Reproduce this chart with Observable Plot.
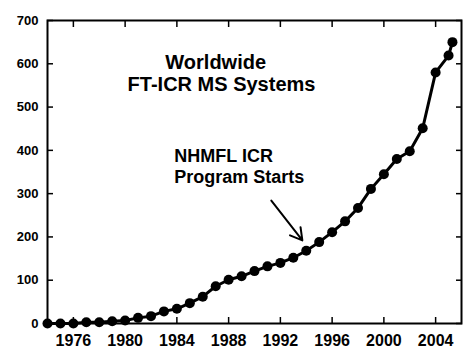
<!DOCTYPE html>
<html>
<head>
<meta charset="utf-8">
<script src="https://cdn.jsdelivr.net/npm/d3@7"></script>
<script src="https://cdn.jsdelivr.net/npm/@observablehq/plot@0.6"></script>
<style>
  html, body { margin: 0; padding: 0; background: #fff; }
  svg { display: block; }
</style>
</head>
<body>
<div id="chart"></div>
<script>
const years = [1974, 1975, 1976, 1977, 1978, 1979, 1980, 1981, 1982, 1983, 1984, 1985, 1986, 1987, 1988, 1989, 1990, 1991, 1992, 1993, 1994, 1995, 1996, 1997, 1998, 1999, 2000, 2001, 2002, 2003, 2004, 2005, 2005.3];
const systems = [0, 0, 0, 3, 3, 5, 7, 13, 17, 28, 34, 47, 62, 86, 101, 109, 121, 132, 140, 152, 168, 188, 211, 236, 267, 311, 345, 380, 398, 451, 580, 619, 650];
const xTicks = [1976, 1980, 1984, 1988, 1992, 1996, 2000, 2004];
const yTicks = [0, 100, 200, 300, 400, 500, 600, 700];
const titleLines = ["Worldwide", "FT-ICR MS Systems"];
const noteLines = ["NHMFL ICR", "Program Starts"];
const arrowFrom = {year: 1991.3, value: 284};
const arrowTo = {year: 1993.7, value: 192};

const data = years.map((y, i) => ({year: y, value: systems[i]}));
const font = "'Liberation Sans', Arial, Helvetica, sans-serif";

const chart = Plot.plot({
  width: 474,
  height: 355,
  marginLeft: 47,
  marginRight: 13,
  marginTop: 20,
  marginBottom: 32,
  style: {fontFamily: font, fontWeight: "bold", color: "black", background: "white"},
  x: {domain: [1974, 2006]},
  y: {domain: [0, 700]},
  marks: [
    Plot.frame({stroke: "black", strokeWidth: 2}),
    Plot.axisX({anchor: "bottom", ticks: xTicks, tickSize: 0, tickPadding: 11, tickFormat: d => String(d), fontSize: 16, fontWeight: "bold", label: null}),
    Plot.axisX({anchor: "bottom", ticks: xTicks, tickSize: -6, text: null, strokeWidth: 1.5, label: null}),
    Plot.axisX({anchor: "top", ticks: xTicks, tickSize: -6, text: null, strokeWidth: 1.5, label: null}),
    Plot.axisY({anchor: "left", ticks: yTicks, tickSize: 0, tickPadding: 9, fontSize: 13, fontWeight: "bold", label: null}),
    Plot.axisY({anchor: "left", ticks: yTicks, tickSize: -6, text: null, strokeWidth: 1.5, label: null}),
    Plot.axisY({anchor: "right", ticks: yTicks, tickSize: -6, text: null, strokeWidth: 1.5, label: null}),
    Plot.line(data, {x: "year", y: "value", stroke: "black", strokeWidth: 3}),
    Plot.dot(data, {x: "year", y: "value", r: 5, fill: "black"}),
    Plot.text([titleLines[0]], {x: [1987.0], y: [603], text: d => d, fontSize: 20, fontWeight: "bold", fill: "black"}),
    Plot.text([titleLines[1]], {x: [1987.45], y: [553], text: d => d, fontSize: 20, fontWeight: "bold", fill: "black"}),
    Plot.text([noteLines[0]], {x: [1983.8], y: [386], text: d => d, fontSize: 18, fontWeight: "bold", fill: "black", textAnchor: "start"}),
    Plot.text([noteLines[1]], {x: [1983.8], y: [339], text: d => d, fontSize: 18, fontWeight: "bold", fill: "black", textAnchor: "start"}),
    Plot.arrow([{}], {x1: () => arrowFrom.year, y1: () => arrowFrom.value, x2: () => arrowTo.year, y2: () => arrowTo.value, stroke: "black", strokeWidth: 2, headLength: 10})
  ]
});
document.getElementById("chart").append(chart);
</script>
</body>
</html>
